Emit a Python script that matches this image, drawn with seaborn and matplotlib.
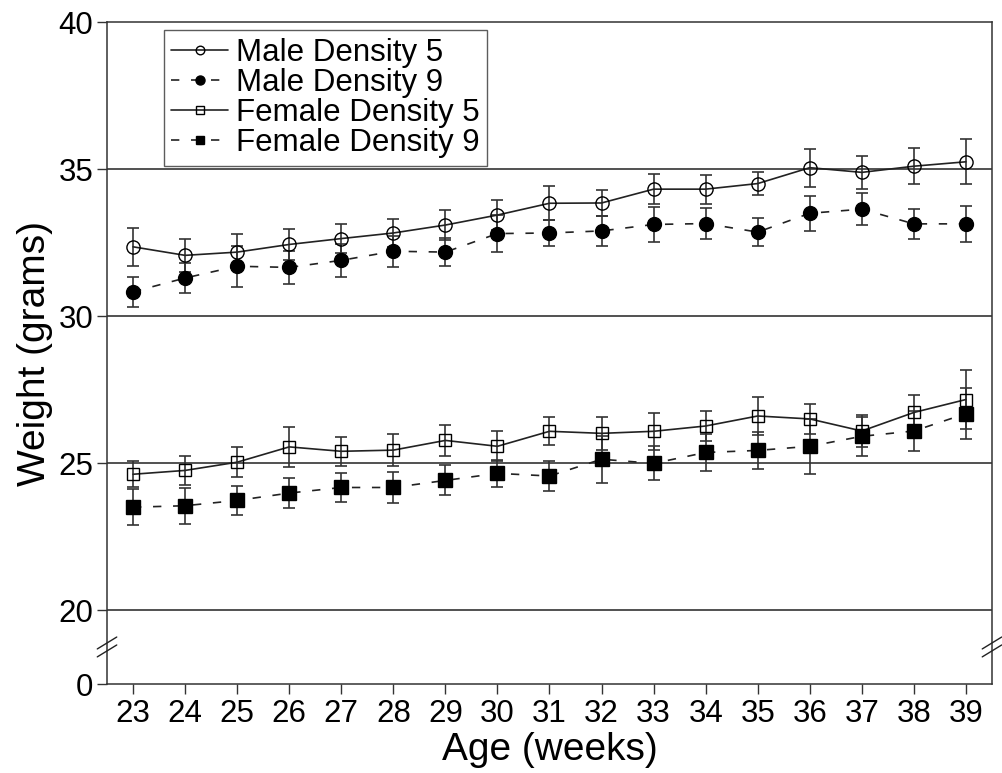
import matplotlib
matplotlib.use("Agg")
import matplotlib.pyplot as plt
import seaborn as sns
import pandas as pd
from matplotlib.lines import Line2D

weeks = [23, 24, 25, 26, 27, 28, 29, 30, 31, 32, 33, 34, 35, 36, 37, 38, 39]

male5 = [32.36, 32.07, 32.18, 32.44, 32.64, 32.83, 33.10, 33.44, 33.84, 33.85, 34.32, 34.32, 34.51, 35.05, 34.89, 35.10, 35.25]
male5_err = [0.64, 0.55, 0.62, 0.52, 0.50, 0.49, 0.52, 0.50, 0.58, 0.44, 0.52, 0.49, 0.40, 0.65, 0.56, 0.62, 0.77]
male9 = [30.83, 31.30, 31.70, 31.66, 31.90, 32.21, 32.18, 32.81, 32.83, 32.90, 33.12, 33.15, 32.86, 33.50, 33.64, 33.14, 33.14]
male9_err = [0.52, 0.50, 0.70, 0.55, 0.55, 0.53, 0.47, 0.63, 0.45, 0.50, 0.58, 0.54, 0.47, 0.60, 0.54, 0.52, 0.60]
fem5 = [24.63, 24.76, 25.04, 25.56, 25.41, 25.45, 25.78, 25.58, 26.09, 26.02, 26.09, 26.27, 26.61, 26.51, 26.10, 26.73, 27.17]
fem5_err = [0.44, 0.49, 0.50, 0.67, 0.49, 0.55, 0.54, 0.51, 0.48, 0.55, 0.63, 0.52, 0.63, 0.52, 0.53, 0.61, 1.00]
fem9 = [23.51, 23.56, 23.74, 23.99, 24.18, 24.18, 24.42, 24.66, 24.57, 25.14, 25.00, 25.37, 25.44, 25.58, 25.92, 26.10, 26.69]
fem9_err = [0.62, 0.61, 0.48, 0.51, 0.49, 0.52, 0.51, 0.47, 0.50, 0.80, 0.58, 0.62, 0.63, 0.93, 0.67, 0.67, 0.87]

series_names = ["Male Density 5", "Male Density 9", "Female Density 5", "Female Density 9"]

ytick_vals = [17.5, 20, 25, 30, 35, 40]
ytick_labels = ["0", "20", "25", "30", "35", "40"]

sns.set_style("white")
plt.rcParams['font.family'] = ['Liberation Sans', 'DejaVu Sans']
plt.rcParams['text.color'] = 'black'
plt.rcParams['axes.labelcolor'] = 'black'
plt.rcParams['xtick.color'] = 'black'
plt.rcParams['ytick.color'] = 'black'

fig = plt.figure(figsize=(10.03, 7.73), dpi=100)
ax = fig.add_axes([0.1067, 0.1151, 0.8823, 0.8564])

dark = "#222222"
specs = [
    (male5, male5_err, 'o', 'none', '-', 9.5),
    (male9, male9_err, 'o', 'black', (0, (5, 7)), 10),
    (fem5, fem5_err, 's', 'none', '-', 9),
    (fem9, fem9_err, 's', 'black', (0, (5, 7)), 9.5),
]

handles = []
for name, (vals, errs, mk, fc, ls, ms) in zip(series_names, specs):
    ax.errorbar(weeks, vals, yerr=errs, fmt='none', ecolor="#333333",
                elinewidth=1.2, capsize=4, capthick=1.2, zorder=3)
    df = pd.DataFrame({"week": weeks, "weight": vals})
    sns.lineplot(data=df, x="week", y="weight", ax=ax, color=dark,
                 linewidth=1.2, linestyle=ls, marker=mk, markersize=ms,
                 markerfacecolor=fc, markeredgecolor='black',
                 markeredgewidth=1.0, zorder=4)
    handles.append(Line2D([], [], color=dark, linewidth=1.2, linestyle=ls,
                          marker=mk, markersize=ms * 0.65, markerfacecolor=fc,
                          markeredgecolor='black', markeredgewidth=1.0))

ax.set_xlim(22.5, 39.5)
ax.set_ylim(17.5, 40)
ax.set_xticks(weeks)
ax.set_xticklabels([str(w) for w in weeks])
ax.set_yticks(ytick_vals)
ax.set_yticklabels(ytick_labels)

ax.grid(axis='y', color='#222222', linewidth=1.1)
ax.grid(axis='x', visible=False)
ax.get_ygridlines()[0].set_visible(False)
ax.get_ygridlines()[-1].set_visible(False)
ax.set_axisbelow(True)

for s in ax.spines.values():
    s.set_color('#333333')
    s.set_linewidth(1.1)
    s.set_visible(True)

ax.tick_params(axis='both', direction='out', length=7, width=1.0, color='#333333',
               labelsize=22.5, labelcolor='black')
ax.tick_params(axis='y', pad=3)
ax.tick_params(axis='x', pad=4)
ax.tick_params(left=True, bottom=True)

ax.set_xlabel("Age (weeks)", fontsize=28, labelpad=2, color='black')
ax.set_ylabel("Weight (grams)", fontsize=28, labelpad=4, color='black')

# axis break marks on both vertical spines
yb = 0.056
for xa in (0.0, 1.0):
    for dy in (-0.006, 0.006):
        ax.plot([xa - 0.011, xa + 0.011], [yb + dy - 0.009, yb + dy + 0.009],
                transform=ax.transAxes, color='#222222', linewidth=1.0,
                clip_on=False, zorder=6)

leg = ax.legend(handles, series_names, loc='upper left',
                bbox_to_anchor=(0.064, 0.988), borderaxespad=0,
                fontsize=22.5, frameon=True, fancybox=False, edgecolor='#333333',
                handlelength=1.8, handletextpad=0.25, labelspacing=0.0,
                borderpad=0.25)
leg.get_frame().set_linewidth(1.0)
for t in leg.get_texts():
    t.set_color('black')

fig.savefig("out.png", dpi=100)
